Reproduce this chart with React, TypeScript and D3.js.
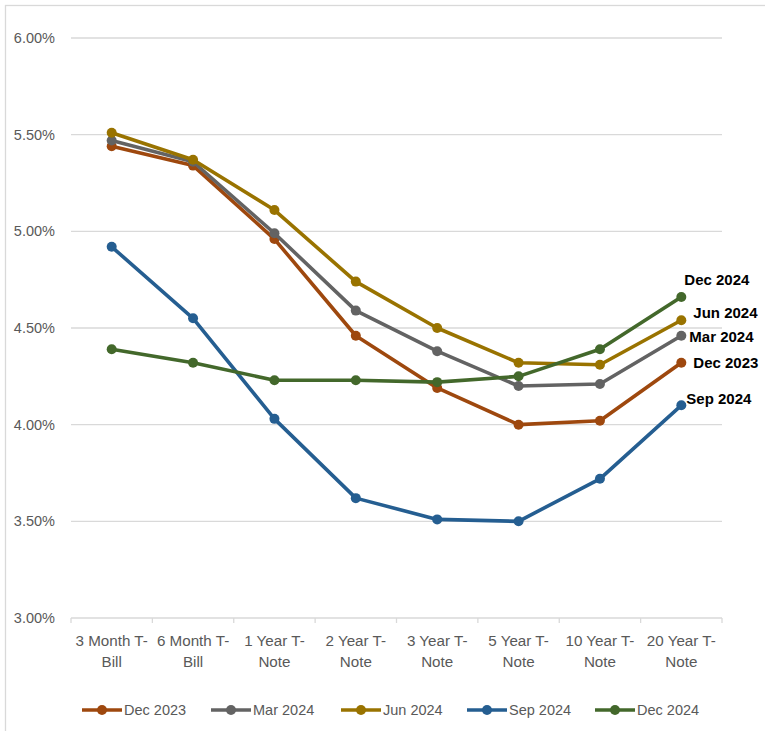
import React from "react";
import * as d3 from "d3";

const categories = [
  ["3 Month T-", "Bill"],
  ["6 Month T-", "Bill"],
  ["1 Year T-", "Note"],
  ["2 Year T-", "Note"],
  ["3 Year T-", "Note"],
  ["5 Year T-", "Note"],
  ["10 Year T-", "Note"],
  ["20 Year T-", "Note"],
];
const seriesNames = ["Dec 2023", "Mar 2024", "Jun 2024", "Sep 2024", "Dec 2024"];
const dec2023 = [5.44, 5.34, 4.96, 4.46, 4.19, 4.0, 4.02, 4.32];
const mar2024 = [5.47, 5.36, 4.99, 4.59, 4.38, 4.2, 4.21, 4.46];
const jun2024 = [5.51, 5.37, 5.11, 4.74, 4.5, 4.32, 4.31, 4.54];
const sep2024 = [4.92, 4.55, 4.03, 3.62, 3.51, 3.5, 3.72, 4.1];
const dec2024 = [4.39, 4.32, 4.23, 4.23, 4.22, 4.25, 4.39, 4.66];
const yTicks = [3.0, 3.5, 4.0, 4.5, 5.0, 5.5, 6.0];

const colors = ["#9E480E", "#636363", "#997300", "#255E91", "#43682B"];
// label offsets relative to last point (styling)
const labelOffsets = [
  [12, 0],
  [8, 1],
  [12, -8],
  [5, -7],
  [3, -17],
];
const legendX = [82, 211, 341, 467, 595];

const W = 765;
const H = 731;
const FONT = "'Liberation Sans', Arial, sans-serif";

export default function App() {
  const allSeries = [dec2023, mar2024, jun2024, sep2024, dec2024];
  const x = d3
    .scaleBand<number>()
    .domain(d3.range(categories.length))
    .range([71, 722]);
  const y = d3.scaleLinear().domain([3, 6]).range([618, 38]);
  const cx = (i: number) => (x(i) as number) + x.bandwidth() / 2;
  const line = d3
    .line<number>()
    .x((_, i) => cx(i))
    .y((d) => y(d));
  const last = categories.length - 1;

  return (
    <svg
      width={W}
      height={H}
      style={{ position: "absolute", left: 0, top: 0, background: "#fff" }}
      fontFamily={FONT}
    >
      <rect x={5.5} y={5.5} width={W + 10} height={H + 10} fill="#fff" stroke="#D9D9D9" strokeWidth={1.3} />
      {yTicks.map((t) => (
        <g key={t}>
          <line x1={71} x2={722} y1={y(t)} y2={y(t)} stroke="#D9D9D9" strokeWidth={1.3} />
          <text x={55} y={y(t)} dy="0.35em" textAnchor="end" fontSize={14.5} fill="#595959">
            {d3.format(".2f")(t)}%
          </text>
        </g>
      ))}
      {d3.range(categories.length + 1).map((i) => {
        const xx = i < categories.length ? (x(i) as number) : 722;
        return <line key={i} x1={xx} x2={xx} y1={y(3)} y2={y(3) + 5} stroke="#D9D9D9" strokeWidth={1.3} />;
      })}
      {categories.map((c, i) => (
        <text key={i} x={cx(i)} textAnchor="middle" fontSize={15.2} fill="#595959">
          <tspan x={cx(i)} y={646}>{c[0]}</tspan>
          <tspan x={cx(i)} y={667}>{c[1]}</tspan>
        </text>
      ))}
      {allSeries.map((s, k) => (
        <g key={k}>
          <path d={line(s) || ""} fill="none" stroke={colors[k]} strokeWidth={3.6} strokeLinejoin="round" />
          {s.map((v, i) => (
            <circle key={i} cx={cx(i)} cy={y(v)} r={5} fill={colors[k]} />
          ))}
        </g>
      ))}
      {allSeries.map((s, k) => (
        <text
          key={k}
          x={cx(last) + labelOffsets[k][0]}
          y={y(s[last]) + labelOffsets[k][1]}
          dy="0.35em"
          fontSize={15}
          fontWeight="bold"
          fill="#000"
        >
          {seriesNames[k]}
        </text>
      ))}
      {seriesNames.map((n, k) => (
        <g key={n}>
          <line x1={legendX[k]} x2={legendX[k] + 40} y1={710} y2={710} stroke={colors[k]} strokeWidth={3.6} />
          <circle cx={legendX[k] + 20} cy={710} r={5} fill={colors[k]} />
          <text x={legendX[k] + 42} y={710} dy="0.35em" fontSize={14.5} fill="#595959">
            {n}
          </text>
        </g>
      ))}
    </svg>
  );
}
